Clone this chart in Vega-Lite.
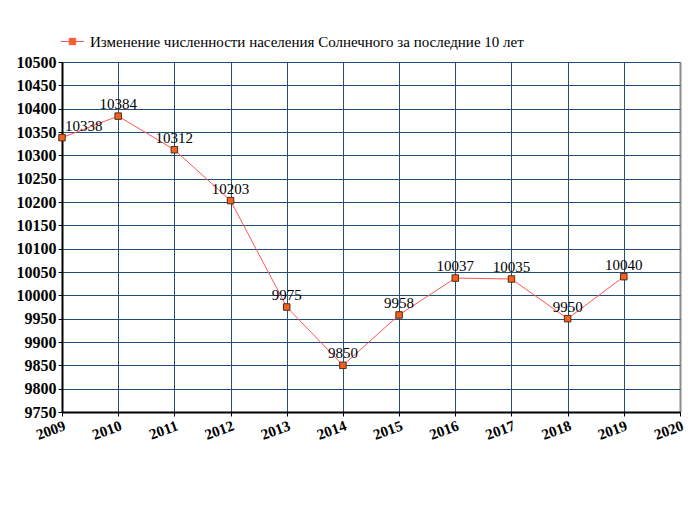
{
  "$schema": "https://vega.github.io/schema/vega-lite/v6.json",
  "width": 618,
  "height": 350,
  "autosize": {"type": "none"},
  "padding": {"left": 62, "top": 62, "right": 20, "bottom": 103},
  "background": "white",
  "config": {
    "font": "Liberation Serif",
    "view": {"stroke": null}
  },
  "data": {
    "values": [
      {"year": 2009, "pop": 10338},
      {"year": 2010, "pop": 10384},
      {"year": 2011, "pop": 10312},
      {"year": 2012, "pop": 10203},
      {"year": 2013, "pop": 9975},
      {"year": 2014, "pop": 9850},
      {"year": 2015, "pop": 9958},
      {"year": 2016, "pop": 10037},
      {"year": 2017, "pop": 10035},
      {"year": 2018, "pop": 9950},
      {"year": 2019, "pop": 10040}
    ]
  },
  "encoding": {
    "x": {
      "field": "year",
      "type": "quantitative",
      "scale": {"domain": [2009, 2020], "nice": false, "zero": false},
      "axis": {
        "title": null,
        "values": [2009, 2010, 2011, 2012, 2013, 2014, 2015, 2016, 2017, 2018, 2019, 2020],
        "format": "d",
        "labelAngle": -20,
        "labelAlign": "right",
        "labelBaseline": "top",
        "labelFont": "Liberation Serif",
        "labelFontSize": 15,
        "labelFontWeight": "bold",
        "labelColor": "#000000",
        "labelPadding": 2,
        "domainColor": "#000000",
        "domainWidth": 2,
        "tickColor": "#000000",
        "tickSize": 4,
        "gridColor": {"condition": {"test": "datum.value == 2020", "value": "#8c8c8c"}, "value": "#1F4E79"},
        "gridWidth": {"condition": {"test": "datum.value == 2020", "value": 2}, "value": 1},
        "gridOpacity": 1
      }
    },
    "y": {
      "field": "pop",
      "type": "quantitative",
      "scale": {"domain": [9750, 10500], "nice": false, "zero": false},
      "axis": {
        "title": null,
        "values": [9750, 9800, 9850, 9900, 9950, 10000, 10050, 10100, 10150, 10200, 10250, 10300, 10350, 10400, 10450, 10500],
        "format": "d",
        "labelFont": "Liberation Serif",
        "labelFontSize": 16,
        "labelFontWeight": "bold",
        "labelColor": "#000000",
        "labelPadding": 2,
        "domainColor": "#000000",
        "domainWidth": 2,
        "tickColor": "#000000",
        "tickSize": 4,
        "gridColor": "#1F4E79",
        "gridWidth": 1,
        "gridOpacity": 1
      }
    }
  },
  "layer": [
    {
      "mark": {"type": "line", "strokeWidth": 1},
      "encoding": {
        "color": {
          "datum": "Изменение численности населения Солнечного за последние 10 лет",
          "type": "nominal",
          "scale": {"range": ["#FF5555"]},
          "legend": {
            "title": null,
            "orient": "top",
            "offset": 12,
            "labelFont": "Liberation Serif",
            "labelFontSize": 15,
            "labelColor": "#000000",
            "labelLimit": 0,
            "symbolType": "M-1.45,0L-0.4,0M0.4,0L1.45,0M-0.4,-0.4L0.4,-0.4L0.4,0.4L-0.4,0.4Z",
            "symbolSize": 256,
            "symbolStrokeWidth": 1,
            "symbolFillColor": "#F26322",
            "symbolStrokeColor": "#FF5555",
            "symbolOffset": 2,
            "labelOffset": 9
          }
        }
      }
    },
    {
      "mark": {"type": "square", "size": 42, "filled": true, "color": "#F26322", "stroke": "#5a2a10", "strokeWidth": 1, "opacity": 1}
    },
    {
      "transform": [{"filter": "datum.year > 2009"}],
      "mark": {"type": "text", "font": "Liberation Serif", "fontSize": 15, "color": "#000000", "align": "center", "baseline": "alphabetic", "dy": -7},
      "encoding": {"text": {"field": "pop", "type": "quantitative", "format": "d"}}
    },
    {
      "transform": [{"filter": "datum.year == 2009"}],
      "mark": {"type": "text", "font": "Liberation Serif", "fontSize": 15, "color": "#000000", "align": "left", "baseline": "alphabetic", "dx": 3, "dy": -7},
      "encoding": {"text": {"field": "pop", "type": "quantitative", "format": "d"}}
    }
  ]
}
